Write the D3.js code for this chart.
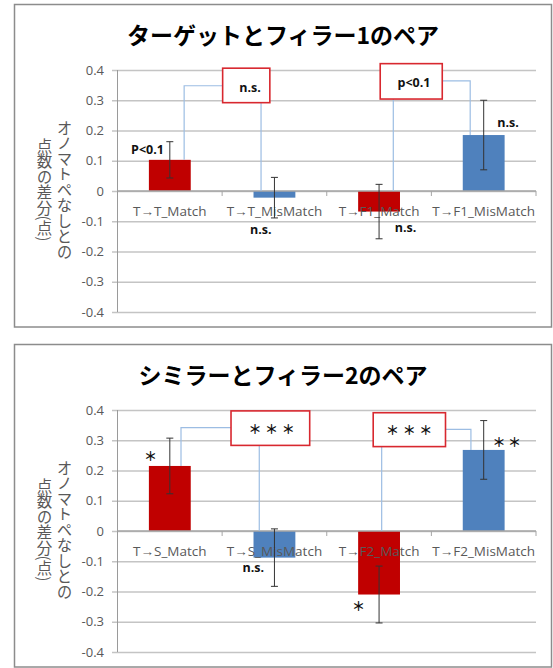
<!DOCTYPE html>
<html><head><meta charset="utf-8">
<script src="https://cdn.jsdelivr.net/npm/d3@7"></script>
<style>html,body{margin:0;padding:0;background:#fff;}svg{display:block;}</style>
</head><body>
<script>
// ---- data ----
const titles = ["ターゲットとフィラー1のペア", "シミラーとフィラー2のペア"];
const categories1 = ["T→T_Match", "T→T_MisMatch", "T→F1_Match", "T→F1_MisMatch"];
const values1 = [0.103, -0.022, -0.068, 0.185];
const errors1 = [0.060, 0.067, 0.090, 0.115];
const categories2 = ["T→S_Match", "T→S_MisMatch", "T→F2_Match", "T→F2_MisMatch"];
const values2 = [0.215, -0.088, -0.210, 0.268];
const errors2 = [0.092, 0.095, 0.094, 0.097];
const yTicks = [0.4, 0.3, 0.2, 0.1, 0, -0.1, -0.2, -0.3, -0.4];
const yLabelLines = ["オノマトペなしとの", "点数の差分(点)"];
const barColors = ["#C00000", "#4F81BD", "#C00000", "#4F81BD"];

// annotations in data units (band index, value)
const notes1 = {
  boxes: [{x0: 1.005, x1: 1.456, y0: 0.406, y1: 0.292, text: "n.s.", tx: 1.266, ty: 0.343},
          {x0: 2.511, x1: 3.104, y0: 0.421, y1: 0.304, text: "p<0.1", tx: 2.834, ty: 0.360}],
  links: [[[1.005, 0.348], [0.637, 0.348], [0.637, 0.103]],
          [[1.372, 0.292], [1.372, 0]],
          [[2.636, 0.304], [2.636, 0]],
          [[3.104, 0.364], [3.371, 0.364], [3.371, 0.185]]],
  labels: [{text: "P<0.1", x: 0.287, y: 0.138}, {text: "n.s.", x: 1.369, y: -0.127},
           {text: "n.s.", x: 2.754, y: -0.120}, {text: "n.s.", x: 3.732, y: 0.227}]
};
const notes2 = {
  boxes: [{x0: 1.085, x1: 1.837, y0: 0.397, y1: 0.283, text: "＊＊＊", tx: 1.49, ty: 0.340},
          {x0: 2.444, x1: 3.135, y0: 0.391, y1: 0.279, text: "＊＊＊", tx: 2.805, ty: 0.335}],
  links: [[[1.085, 0.342], [0.607, 0.342], [0.607, 0.215]],
          [[1.355, 0.283], [1.355, 0]],
          [[2.525, 0.279], [2.525, 0]],
          [[3.135, 0.336], [3.378, 0.336], [3.378, 0.268]]],
  labels: [{text: "＊", x: 0.327, y: 0.250}, {text: "n.s.", x: 1.298, y: -0.122},
           {text: "＊", x: 2.316, y: -0.246}, {text: "＊＊", x: 3.732, y: 0.297}]
};

const W = 553, H = 668;
const svg = d3.select("body").append("svg").attr("width", W).attr("height", H);
const latin = "'Open Sans', 'Noto Sans', sans-serif";
const jp = "'Noto Sans CJK JP', sans-serif";

function panel(offY, title, cats, vals, errs, notes) {
  const g = svg.append("g").attr("transform", `translate(0,${offY})`);
  g.append("rect").attr("x", 14.5).attr("y", 4.5).attr("width", 537).attr("height", 322.5)
    .attr("fill", "#fff").attr("stroke", "#8c8c8c").attr("stroke-width", 1.5);
  g.append("text").attr("x", 283).attr("y", 34).attr("text-anchor", "middle")
    .attr("dominant-baseline", "central").attr("font-family", jp).attr("font-weight", "bold")
    .attr("font-size", 23).attr("fill", "#000").text(title);

  const x0 = 117.5, x1 = 536;
  const y = d3.scaleLinear().domain([-0.4, 0.4]).range([312, 70]);
  const x = d3.scaleBand().domain(cats).range([x0, x1]).paddingInner(0.6).paddingOuter(0.3);
  const xi = d3.scaleLinear().domain([0, 4]).range([x0, x1]);

  // gridlines + tick labels
  const ax = g.append("g").attr("transform", `translate(112,0)`)
    .call(d3.axisLeft(y).tickValues(yTicks).tickSize(-(x1 - 112)).tickPadding(8)
      .tickFormat(d => d === 0 ? "0" : d.toFixed(1)));
  ax.select(".domain").remove();
  ax.selectAll("line").attr("stroke", "#c4c4c4").attr("stroke-width", 1.3);
  ax.selectAll("text").attr("font-family", latin).attr("font-size", 13).attr("fill", "#595959");

  // y axis line
  g.append("line").attr("x1", x0).attr("x2", x0).attr("y1", y(0.4)).attr("y2", y(-0.4))
    .attr("stroke", "#9a9a9a").attr("stroke-width", 1);

  // bars
  g.selectAll("rect.bar").data(vals).enter().append("rect").attr("class", "bar")
    .attr("x", (d, i) => x(cats[i])).attr("width", x.bandwidth())
    .attr("y", d => y(Math.max(0, d))).attr("height", d => Math.abs(y(d) - y(0)))
    .attr("fill", (d, i) => barColors[i]);

  // zero axis and category ticks
  g.append("line").attr("x1", x0).attr("x2", x1).attr("y1", y(0)).attr("y2", y(0))
    .attr("stroke", "#a6a6a6").attr("stroke-width", 1.3);
  g.selectAll("line.ct").data([1, 2, 3, 4]).enter().append("line")
    .attr("x1", d => xi(d)).attr("x2", d => xi(d)).attr("y1", y(0)).attr("y2", y(0) + 5)
    .attr("stroke", "#a6a6a6").attr("stroke-width", 1);

  // category labels
  g.selectAll("text.cat").data(cats).enter().append("text")
    .attr("x", d => x(d) + x.bandwidth() / 2).attr("y", y(0) + 19.5)
    .attr("text-anchor", "middle").attr("dominant-baseline", "central")
    .attr("font-family", latin).attr("font-size", 13.5).attr("fill", "#595959").text(d => d);

  // error bars
  const eb = g.selectAll("g.eb").data(vals).enter().append("g")
    .attr("stroke", "#333").attr("stroke-width", 1);
  eb.each(function (d, i) {
    const cx = x(cats[i]) + x.bandwidth() / 2, s = d3.select(this);
    s.append("line").attr("x1", cx).attr("x2", cx).attr("y1", y(d + errs[i])).attr("y2", y(d - errs[i]));
    [d + errs[i], d - errs[i]].forEach(v => s.append("line").attr("x1", cx - 3.5).attr("x2", cx + 3.5)
      .attr("y1", y(v)).attr("y2", y(v)));
  });

  // connector lines
  const line = d3.line().x(p => xi(p[0])).y(p => y(p[1]));
  g.selectAll("path.link").data(notes.links).enter().append("path")
    .attr("d", line).attr("fill", "none").attr("stroke", "#9cbde3").attr("stroke-width", 1.2);

  // boxes
  notes.boxes.forEach(b => {
    g.append("rect").attr("x", xi(b.x0)).attr("y", y(b.y0))
      .attr("width", xi(b.x1) - xi(b.x0)).attr("height", y(b.y1) - y(b.y0))
      .attr("fill", "#fff").attr("stroke", "#d8282f").attr("stroke-width", 1.6);
    const star = b.text.indexOf("＊") >= 0;
    g.append("text").attr("x", xi(b.tx)).attr("y", y(b.ty))
      .attr("text-anchor", "middle").attr("dominant-baseline", "central")
      .attr("font-family", star ? jp : latin).attr("font-weight", "bold")
      .attr("font-size", star ? 13 : 12.5).attr("letter-spacing", star ? 3.6 : 0)
      .attr("fill", "#111").text(b.text);
  });
  notes.labels.forEach(l => {
    const star = l.text.indexOf("＊") >= 0;
    g.append("text").attr("x", xi(l.x)).attr("y", y(l.y))
      .attr("text-anchor", "middle").attr("dominant-baseline", "central")
      .attr("font-family", star ? jp : latin).attr("font-weight", "bold")
      .attr("font-size", star ? 13 : 12.5).attr("letter-spacing", star ? 2.5 : 0)
      .attr("fill", "#111").text(l.text);
  });

  // y axis title (vertical)
  const yl = [{t: yLabelLines[0], x: 64.5, y: 120}, {t: yLabelLines[1], x: 44.5, y: 138}];
  g.selectAll("text.yl").data(yl).enter().append("text")
    .attr("x", d => d.x).attr("y", d => d.y)
    .style("writing-mode", "vertical-rl")
    .attr("font-family", jp).attr("font-size", 15.5).attr("fill", "#595959").text(d => d.t);
}

panel(0, titles[0], categories1, values1, errors1, notes1);
panel(340, titles[1], categories2, values2, errors2, notes2);
</script>
</body></html>
